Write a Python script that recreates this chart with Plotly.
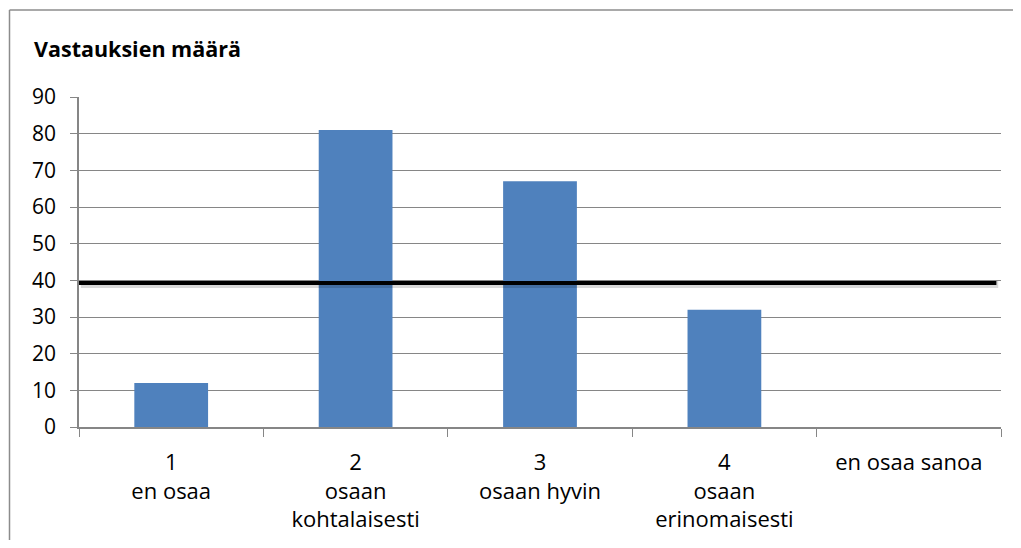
import plotly.graph_objects as go

categories = ["1<br>en osaa", "2<br>osaan<br>kohtalaisesti", "3<br>osaan hyvin",
              "4<br>osaan<br>erinomaisesti", "en osaa sanoa"]
values = [12, 81, 67, 32, 0]
threshold = 39.3
title_text = "Vastauksien määrä"

OFF = 8  # default page body margin
W, H = 1021 - 2 * OFF, 548 - 2 * OFF
# plot area in window pixels: x 79..1001, y 97..427
L, T = 79 - OFF, 97 - OFF
R = OFF + W - 1001
B = OFF + H - 427
pw, ph = W - L - R, H - T - B

def px_x(x):
    return (x - OFF - L) / pw

def px_y(y):
    return (H - B - (y - OFF)) / ph

FONT = "Open Sans, Lato, sans-serif"

fig = go.Figure()
fig.add_trace(go.Bar(x=categories, y=values, marker=dict(color="#4f81bd", line=dict(width=0)),
                     width=0.4, showlegend=False))

# threshold line with shadow
fig.add_shape(type="line", xref="paper", yref="y", x0=0.002, x1=0.997, y0=threshold - 0.45, y1=threshold - 0.45,
              line=dict(color="rgba(0,0,0,0.15)", width=7), layer="above")
fig.add_shape(type="line", xref="paper", yref="y", x0=0, x1=0.995, y0=threshold, y1=threshold,
              line=dict(color="black", width=4), layer="above")

# outer border (left and top edges visible in window)
border = dict(color="#8c8c8c", width=1.5)
fig.add_shape(type="line", xref="paper", yref="paper", x0=px_x(9.5), x1=px_x(9.5), y0=px_y(600), y1=px_y(10),
              line=border, layer="below")
fig.add_shape(type="line", xref="paper", yref="paper", x0=px_x(9.5), x1=px_x(1040), y0=px_y(10), y1=px_y(10),
              line=border, layer="below")

fig.add_annotation(text="<b>" + title_text + "</b>", xref="paper", yref="paper", x=px_x(32), y=px_y(48),
                   xanchor="left", yanchor="middle", showarrow=False,
                   font=dict(size=21.5, color="black", family=FONT))

fig.update_layout(
    width=W, height=H,
    margin=dict(l=L, r=R, t=T, b=B, autoexpand=False),
    plot_bgcolor="white", paper_bgcolor="white",
    font=dict(family=FONT, size=21, color="black"),
)
fig.update_xaxes(type="category", tickson="boundaries", ticks="outside", ticklen=8, tickcolor="#868686",
                 showline=True, linecolor="#868686", linewidth=1.5, showgrid=False, automargin=False,
                 tickfont=dict(size=22), ticklabelstandoff=15)
fig.update_yaxes(range=[0, 90], dtick=10, ticks="outside", ticklen=7, tickcolor="#868686",
                 showline=True, linecolor="#868686", linewidth=1.5, showgrid=True, gridcolor="#868686",
                 gridwidth=1, zeroline=False, tickfont=dict(size=21), ticklabelstandoff=10, automargin=False)

fig.write_html("out.html")
